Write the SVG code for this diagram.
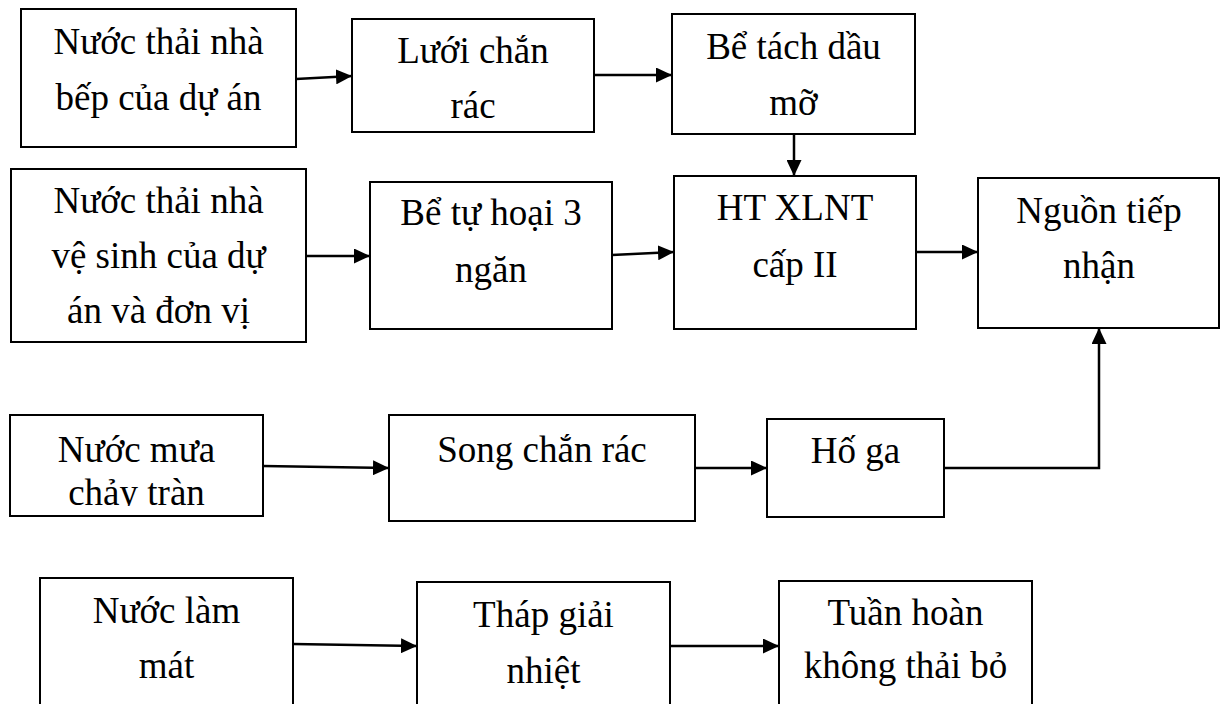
<svg xmlns="http://www.w3.org/2000/svg" width="1220" height="704" viewBox="0 0 1220 704">
<style>
.box{fill:#fff;stroke:#000;stroke-width:2}
.t{font-family:"Liberation Serif","Times New Roman",serif;font-size:37px;fill:#000;text-anchor:middle}
.c{fill:none;stroke:#000;stroke-width:2.5}
</style>
<defs>
<marker id="ah" markerUnits="userSpaceOnUse" markerWidth="17" markerHeight="15" refX="16" refY="7.5" orient="auto">
<path d="M0,0 L16,7.5 L0,15 Z" fill="#000"/>
</marker>
<clipPath id="clipMua"><rect x="0" y="400" width="300" height="106"/></clipPath>
</defs>
<rect width="1220" height="704" fill="#fff"/>
<g id="n1"><rect class="box" x="21" y="9" width="275" height="138"/><text class="t" x="158.5" y="54">Nước thải nhà</text><text class="t" x="158.5" y="110">bếp của dự án</text></g>
<g id="n2"><rect class="box" x="352" y="19" width="242" height="113"/><text class="t" x="473" y="63">Lưới chắn</text><text class="t" x="473" y="118">rác</text></g>
<g id="n3"><rect class="box" x="672" y="14" width="243" height="120"/><text class="t" x="793.5" y="59">Bể tách dầu</text><text class="t" x="793.5" y="115">mỡ</text></g>
<g id="n4"><rect class="box" x="11" y="169" width="295" height="173"/><text class="t" x="158.5" y="213">Nước thải nhà</text><text class="t" x="158.5" y="268">vệ sinh của dự</text><text class="t" x="158.5" y="323">án và đơn vị</text></g>
<g id="n5"><rect class="box" x="370" y="182" width="242" height="147"/><text class="t" x="491" y="225">Bể tự hoại 3</text><text class="t" x="491" y="282">ngăn</text></g>
<g id="n6"><rect class="box" x="674" y="176" width="242" height="153"/><text class="t" x="795" y="220">HT XLNT</text><text class="t" x="795" y="277">cấp II</text></g>
<g id="n7"><rect class="box" x="978" y="178" width="241" height="150"/><text class="t" x="1099" y="223">Nguồn tiếp</text><text class="t" x="1099" y="278">nhận</text></g>
<g id="n8"><rect class="box" x="10" y="415" width="253" height="101"/><g clip-path="url(#clipMua)"><text class="t" x="136.5" y="462">Nước mưa</text><text class="t" x="136.5" y="505">chảy tràn</text></g></g>
<g id="n9"><rect class="box" x="389" y="415" width="306" height="106"/><text class="t" x="542" y="462">Song chắn rác</text></g>
<g id="n10"><rect class="box" x="767" y="419" width="177" height="98"/><text class="t" x="855.5" y="463">Hố ga</text></g>
<g id="n11"><rect class="box" x="40" y="578" width="253" height="140"/><text class="t" x="166.5" y="623">Nước làm</text><text class="t" x="166.5" y="678">mát</text></g>
<g id="n12"><rect class="box" x="417" y="582" width="253" height="140"/><text class="t" x="543.5" y="627">Tháp giải</text><text class="t" x="543.5" y="683">nhiệt</text></g>
<g id="n13"><rect class="box" x="779" y="581" width="253" height="140"/><text class="t" x="905.5" y="625">Tuần hoàn</text><text class="t" x="905.5" y="678">không thải bỏ</text></g>
<g id="connectors">
<line class="c" x1="296" y1="79" x2="352" y2="76" marker-end="url(#ah)"/>
<line class="c" x1="594" y1="75" x2="672" y2="75" marker-end="url(#ah)"/>
<line class="c" x1="794" y1="134" x2="794" y2="176" marker-end="url(#ah)"/>
<line class="c" x1="306" y1="256" x2="370" y2="256" marker-end="url(#ah)"/>
<line class="c" x1="612" y1="255" x2="674" y2="252" marker-end="url(#ah)"/>
<line class="c" x1="916" y1="252" x2="978" y2="252" marker-end="url(#ah)"/>
<line class="c" x1="263" y1="466" x2="389" y2="468" marker-end="url(#ah)"/>
<line class="c" x1="695" y1="468" x2="767" y2="468" marker-end="url(#ah)"/>
<polyline class="c" points="944,468 1099,468 1099,328" marker-end="url(#ah)"/>
<line class="c" x1="293" y1="644" x2="417" y2="646" marker-end="url(#ah)"/>
<line class="c" x1="670" y1="646" x2="779" y2="646" marker-end="url(#ah)"/>
</g>
</svg>
